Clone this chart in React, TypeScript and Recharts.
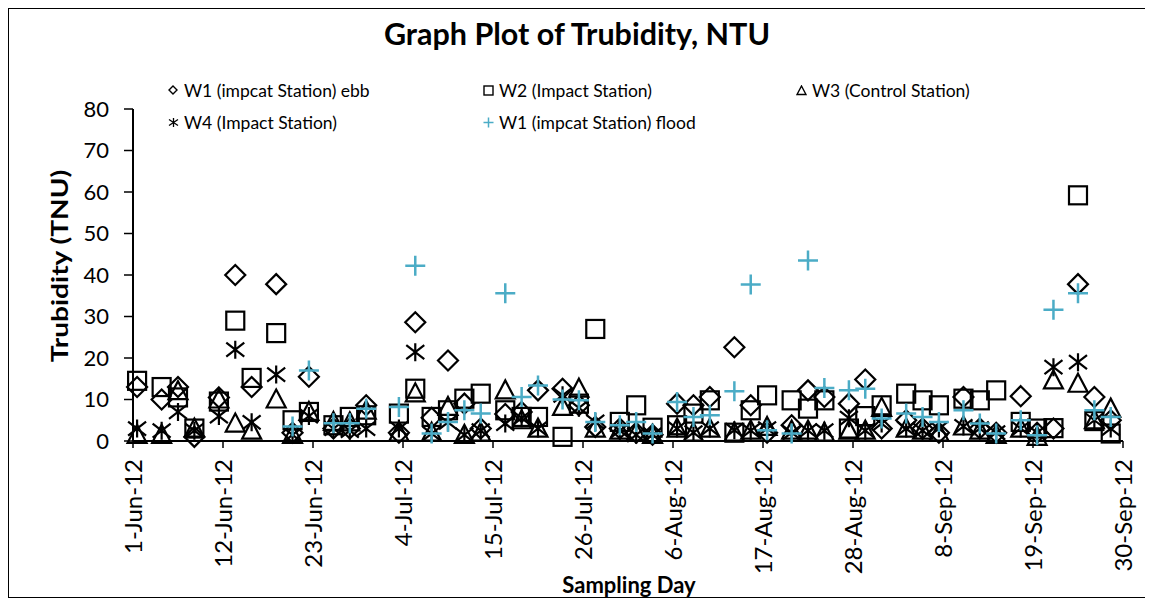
import React from 'react';
import { ScatterChart, Scatter, XAxis, YAxis } from 'recharts';

// sampling dates (2012), values in NTU per station
const sampleDates = [
    '2012-06-01', '2012-06-04', '2012-06-06', '2012-06-08', '2012-06-11', '2012-06-13', '2012-06-15',
    '2012-06-18', '2012-06-20', '2012-06-22', '2012-06-25', '2012-06-27', '2012-06-29', '2012-07-03',
    '2012-07-05', '2012-07-07', '2012-07-09', '2012-07-11', '2012-07-13', '2012-07-16', '2012-07-18',
    '2012-07-20', '2012-07-23', '2012-07-25', '2012-07-27', '2012-07-30', '2012-08-01', '2012-08-03',
    '2012-08-06', '2012-08-08', '2012-08-10', '2012-08-13', '2012-08-15', '2012-08-17', '2012-08-20',
    '2012-08-22', '2012-08-24', '2012-08-27', '2012-08-29', '2012-08-31', '2012-09-03', '2012-09-05',
    '2012-09-07', '2012-09-10', '2012-09-12', '2012-09-14', '2012-09-17', '2012-09-19', '2012-09-21',
    '2012-09-24', '2012-09-26', '2012-09-28',
];

const w1Ebb = [
    13, 10, 13, 1, 10.5, 40, 13, 37.8, 2, 15.5, 3, 3, 8.6, 2, 28.6, 5.6, 19.4, 9, 3, 6.5, 7, 12.2, 12.6, 8.6, 3.4, 3,
    2, 1.5, 9, 8.6, 10.6, 22.6, 8.6, 2, 3.8, 12.2, 10.6, 9, 14.8, 3, 5, 3, 2, 10.6, 3, 2, 10.8, 2, 3, 37.8, 10.6, 5,
];
const w2Impact = [
    14.5, 13, 10.5, 3, 9.5, 29, 15.2, 26, 5, 7, 3.8, 5.8, 6.2, 6.6, 12.6, 5.8, 7.4, 10.2, 11.4, 7.4, 5.8, 5.8, 1, 9, 27, 4.6,
    8.6, 3.2, 3.8, 6.6, 9.8, 2, 7.4, 11, 9.8, 7.8, 9.8, 3, 6, 8.6, 11.4, 9.8, 8.6, 10.2, 9.8, 12.2, 4.6, 3, 3.1, 59.2, 4.8, 1.8,
];
const w3Control = [
    1.5, 1.5, 12, 3, 10, 4.2, 2.5, 10, 1.5, 7, 4.6, 4.5, 7.3, 2, 11.5, 2, 8.2, 1.5, 2, 12.2, 5, 3, 8.2, 12.6, 3, 2.5,
    2, 1.5, 3, 2, 3, 2, 2.5, 3.4, 2.5, 2.5, 2, 2.5, 2.5, 8, 3, 2.5, 2, 3.5, 2.5, 1.5, 3, 1, 14.6, 13.8, 5, 7.8,
];
const w4Impact = [
    3, 2.5, 7, 2.5, 6, 22, 4.5, 16, 1.5, 6, 3, 2.5, 3, 3, 21.4, 1.8, 4.5, 1.5, 2.5, 4.2, 5.5, 3, 11, 8, 4.6, 2.5,
    1.5, 1.5, 3, 2, 3, 2.6, 2.5, 3, 2, 2.5, 2.5, 5.5, 2.5, 4.2, 3, 2.5, 3, 3.5, 3, 2, 3, 2, 17.8, 19, 5, 3,
];
const w1Flood = [
    null, null, null, null, null, null, null, null, 3.5, 17, 4.3, 4.3, 7.8, 8.2, 42.2, 1.8, 4.6, 7.4, 6.6, 35.6, 10.6, 13.4, 10, 9.8, 4.6, 3.8,
    4.6, 1.8, 9.4, 5.8, 6.2, 12, 37.7, 2.6, 1.8, 43.5, 12.8, 12.2, 12.6, 5.4, 6.6, 5.8, 4.6, 7.4, 4.2, 1.8, 5, 1.4, 31.6, 35.6, 7.4, 5.8,
];

const tickDates = ['2012-06-01', '2012-06-12', '2012-06-23', '2012-07-04', '2012-07-15', '2012-07-26', '2012-08-06', '2012-08-17', '2012-08-28', '2012-09-08', '2012-09-19', '2012-09-30'];
const yTicks = [0, 10, 20, 30, 40, 50, 60, 70, 80];
const MONTHS = ['Jan', 'Feb', 'Mar', 'Apr', 'May', 'Jun', 'Jul', 'Aug', 'Sep', 'Oct', 'Nov', 'Dec'];

const START = Date.parse('2012-06-01');
const dayOf = (d: string) => (Date.parse(d) - START) / 86400000;
const fmtDay = (v: number) => {
    const d = new Date(START + v * 86400000);
    return `${d.getUTCDate()}-${MONTHS[d.getUTCMonth()]}-12`;
};

// points sit in the middle of their day, like the Excel date axis
const toPoints = (vals: (number | null)[]) =>
    sampleDates
        .map((d, i) => ({ day: dayOf(d) + 0.5, v: vals[i] }))
        .filter((p) => p.v !== null);

const FONT = 'Lato, "DejaVu Sans", sans-serif';
const BLUE = '#4BACC6';

const Diamond = ({ cx, cy }: any) => (
    <path d={`M${cx},${cy - 10}L${cx + 10},${cy}L${cx},${cy + 10}L${cx - 10},${cy}Z`} fill="none" stroke="#000" strokeWidth={2.2} />
);
const Square = ({ cx, cy }: any) => (
    <rect x={cx - 9} y={cy - 9} width={18} height={18} fill="none" stroke="#000" strokeWidth={2.2} />
);
const Triangle = ({ cx, cy }: any) => (
    <path d={`M${cx},${cy - 10}L${cx + 9.5},${cy + 8}L${cx - 9.5},${cy + 8}Z`} fill="none" stroke="#000" strokeWidth={2.2} />
);
const Asterisk = ({ cx, cy }: any) => (
    <path
        d={`M${cx},${cy - 9}V${cy + 9}M${cx - 9},${cy - 7}L${cx + 9},${cy + 7}M${cx - 9},${cy + 7}L${cx + 9},${cy - 7}`}
        stroke="#000"
        strokeWidth={2.2}
        fill="none"
    />
);
const Plus = ({ cx, cy }: any) => (
    <path d={`M${cx - 10},${cy}H${cx + 10}M${cx},${cy - 10}V${cy + 10}`} stroke={BLUE} strokeWidth={2.5} fill="none" />
);

const XTick = ({ x, y, payload }: any) => (
    <g transform={`translate(${x},${y})`}>
        <text transform="rotate(-90)" textAnchor="end" dy="0.36em" fontSize={24} fontFamily={FONT} fill="#000">
            {fmtDay(payload.value)}
        </text>
    </g>
);

const legendItems = [
    { label: 'W1 (impcat Station) ebb', left: 159, top: 71, icon: <path d="M5,1L9,5L5,9L1,5Z" fill="none" stroke="#000" strokeWidth={1.4} /> },
    { label: 'W2 (Impact Station)', left: 474, top: 71, icon: <rect x={1} y={1} width={9} height={9} fill="none" stroke="#000" strokeWidth={1.4} /> },
    { label: 'W3 (Control Station)', left: 787, top: 71, icon: <path d="M5.5,1L10,9.5L1,9.5Z" fill="none" stroke="#000" strokeWidth={1.4} /> },
    { label: 'W4 (Impact Station)', left: 159, top: 103, icon: <path d="M5.5,1V10M1,2.5L10,8.5M1,8.5L10,2.5" fill="none" stroke="#000" strokeWidth={1.3} /> },
    { label: 'W1 (impcat Station) flood', left: 474, top: 103, icon: <path d="M0.5,5.5H10.5M5.5,0.5V10.5" fill="none" stroke={BLUE} strokeWidth={1.5} /> },
];

export default function App() {
    return (
        <div style={{ position: 'relative', width: 1136, height: 588, border: '1px solid #000', fontFamily: FONT }}>
            <ScatterChart width={1136} height={588} margin={{ top: 100, right: 22, bottom: 6, left: 60 }}>
                <XAxis
                    type="number"
                    dataKey="day"
                    domain={[0, 121]}
                    ticks={tickDates.map(dayOf)}
                    tick={<XTick />}
                    tickSize={7}
                    tickMargin={11}
                    height={150}
                    axisLine={{ stroke: '#000', strokeWidth: 2 }}
                    tickLine={{ stroke: '#000', strokeWidth: 1.5 }}
                    interval={0}
                />
                <YAxis
                    type="number"
                    dataKey="v"
                    domain={[0, 80]}
                    ticks={yTicks}
                    width={64}
                    tickSize={9}
                    tickMargin={15}
                    axisLine={{ stroke: '#000', strokeWidth: 2 }}
                    tickLine={{ stroke: '#000', strokeWidth: 1.5 }}
                    tick={{ fill: '#000', fontSize: 22, fontFamily: FONT }}
                    interval={0}
                />
                <Scatter data={toPoints(w1Ebb)} shape={<Diamond />} isAnimationActive={false} />
                <Scatter data={toPoints(w2Impact)} shape={<Square />} isAnimationActive={false} />
                <Scatter data={toPoints(w3Control)} shape={<Triangle />} isAnimationActive={false} />
                <Scatter data={toPoints(w4Impact)} shape={<Asterisk />} isAnimationActive={false} />
                <Scatter data={toPoints(w1Flood)} shape={<Plus />} isAnimationActive={false} />
            </ScatterChart>

            <div style={{ position: 'absolute', left: 0, top: 6, width: '100%', textAlign: 'center', fontSize: 30.5, fontWeight: 700, lineHeight: '36px' }}>
                Graph Plot of Trubidity, NTU
            </div>

            {legendItems.map((it) => (
                <div key={it.label} style={{ position: 'absolute', left: it.left, top: it.top, display: 'flex', alignItems: 'center', height: 20, fontSize: 17.5 }}>
                    <svg width={11} height={11} style={{ marginRight: 5 }}>
                        {it.icon}
                    </svg>
                    <span>{it.label}</span>
                </div>
            ))}

            <div
                style={{
                    position: 'absolute',
                    left: 50 - 120,
                    top: 257 - 13,
                    width: 240,
                    textAlign: 'center',
                    fontSize: 23,
                    fontWeight: 700,
                    lineHeight: '26px',
                    transform: 'rotate(-90deg) scaleX(1.22)',
                }}
            >
                Trubidity (TNU)
            </div>
            <div style={{ position: 'absolute', left: 620 - 120, top: 563, width: 240, textAlign: 'center', fontSize: 22, fontWeight: 700, lineHeight: '26px' }}>
                Sampling Day
            </div>
        </div>
    );
}
